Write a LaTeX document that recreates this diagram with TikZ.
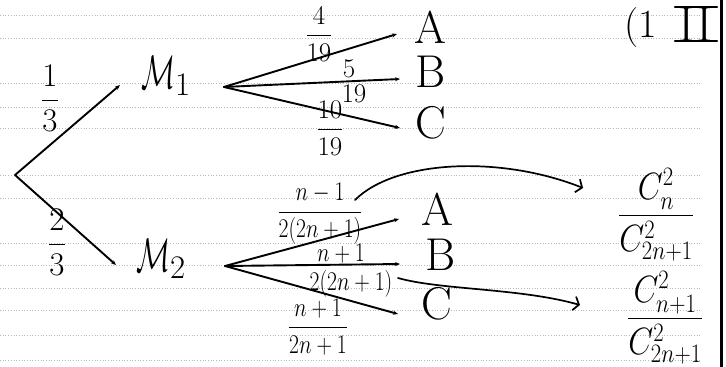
\RequirePackage{fix-cm}
\documentclass[tikz,border=0pt]{standalone}
\usepackage{amsmath}
\usetikzlibrary{arrows.meta,calc}
\newcommand{\narrowx}[2][0.8]{\scalebox{#1}[1]{#2}}
\tikzset{
  ink/.style={line width=1.9pt, line cap=round},
  br/.style={ink, -{Stealth[length=5pt,width=4pt]}},
  curv/.style={line width=1.7pt, line cap=round, -{Straight Barb[length=5pt,width=14pt,line width=1.7pt]}},
  ruling/.style={gray!55, dotted, line width=0.7pt},
  letter/.style={font=\fontsize{46}{50}\selectfont, inner sep=0pt},
  mlab/.style={font=\fontsize{47}{50}\selectfont, inner sep=0pt},
  lbl/.style={font=\fontsize{27}{29}\selectfont, inner sep=0pt},
  plbl/.style={font=\fontsize{33}{36}\selectfont, inner sep=0pt},
  res/.style={font=\fontsize{38}{42}\selectfont, inner sep=0pt},
}
\begin{document}
\begin{tikzpicture}[x=1pt,y=-1pt]
\useasboundingbox (0,0) rectangle (726,367);
\fill[white] (0,0) rectangle (726,367);
% ruled paper
\foreach \yy in {15,38,83,107,128,175,198,243,265,288,310,335,360}
  \draw[ruling] (0,\yy) -- (700,\yy);
\coordinate (edgeT) at (721,0);
\coordinate (edgeB) at (721,367);
\draw[line width=3pt] (edgeT) -- (edgeB);

% first level
\coordinate (root) at (15,175);
\coordinate (m1in) at (120,85);
\coordinate (m2in) at (116,265);
\draw[br] (root) -- (m1in);
\draw[br] (root) -- (m2in);
\node[plbl] (p13) at (50,98) {$\dfrac{1}{3}$};
\node[plbl] (p23) at (57,242) {$\dfrac{2}{3}$};
\node[mlab] (M1) at (166,76) {$\narrowx[0.6]{$\mathcal{M}$}_1$};
\node[mlab] (M2) at (161,259) {$\narrowx[0.6]{$\mathcal{M}$}_2$};

% M1 branches
\coordinate (f1) at (224,87);
\coordinate (t1a) at (397,34);
\coordinate (t1b) at (400,79);
\coordinate (t1c) at (400,128);
\draw[br] (f1) -- (t1a);
\draw[br] (f1) -- (t1b);
\draw[br] (f1) -- (t1c);
\node[letter] (A1) at (430,27) {A};
\node[letter] (B1) at (431,72) {B};
\node[letter] (C1) at (431,123) {C};
\node[lbl] (q1a) at (319,34) {$\dfrac{4}{19}$};
\node[lbl] (q1bn) at (349,69) {$5$};
\node[lbl] (q1bd) at (354,94) {$19$};
\node[lbl] (q1c) at (330,128) {$\dfrac{10}{19}$};

% M2 branches
\coordinate (f2) at (225,266);
\coordinate (t2a) at (399,219);
\coordinate (t2b) at (400,264);
\coordinate (t2c) at (398,314);
\draw[br] (f2) -- (t2a);
\draw[br] (f2) -- (t2b);
\draw[br] (f2) -- (t2c);
\node[letter] (A2) at (437,209) {A};
\node[letter] (B2) at (441,255) {B};
\node[letter] (C2) at (437,304) {C};
\node[lbl] (q2a) at (320,214) {\narrowx{$\dfrac{n-1}{2(2n+1)}$}};
\node[lbl] (q2bn) at (341,254) {\narrowx{$n+1$}};
\node[lbl] (q2bd) at (351,284) {\narrowx{$2(2n+1)$}};
\node[lbl] (q2c) at (318,327) {\narrowx{$\dfrac{n+1}{2n+1}$}};

% results
\node[res] (R1) at (656,215) {\narrowx[0.85]{$\dfrac{C_n^2}{C_{2n+1}^2}$}};
\node[res] (R2) at (665,318) {\narrowx[0.85]{$\dfrac{C_{n+1}^2}{C_{2n+1}^2}$}};
\coordinate (c1s) at (355,200);
\coordinate (c1e) at (583,188);
\draw[curv] (c1s) .. controls (395,160) and (500,155) .. (c1e);
\coordinate (c2s) at (398,278);
\coordinate (c2e) at (580,305);
\draw[curv] (c2s) .. controls (440,290) and (520,288) .. (c2e);

% header
\node[font=\fontsize{40}{42}\selectfont, inner sep=0pt] (hdr) at (641,28) {(1};
\node[font=\fontsize{50}{54}\selectfont, inner sep=0pt] (II) at (696,24) {II};
\draw[ink] ([xshift=-4pt]II.north west) -- ([xshift=4pt]II.north east);
\draw[ink] ([xshift=-4pt]II.south west) -- ([xshift=4pt]II.south east);
\end{tikzpicture}
\end{document}
